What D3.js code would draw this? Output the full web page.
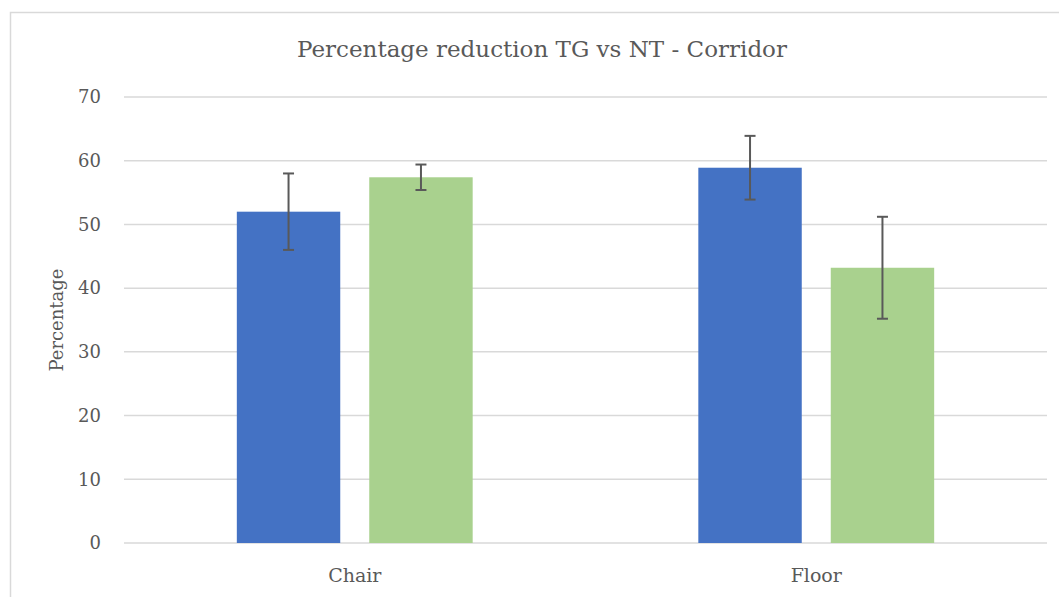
<!DOCTYPE html>
<html>
<head>
<meta charset="utf-8">
<script src="https://cdn.jsdelivr.net/npm/d3@7"></script>
<style>
  body { margin: 0; background: #fff; }
  text { font-family: "DejaVu Serif", serif; fill: #595959; }
</style>
</head>
<body>
<script>
// chart data
var categories = ["Chair", "Floor"];
var seriesNames = ["TG", "NT"];
var seriesColors = ["#4472C4", "#A9D18E"];
var tgValues = [52.0, 58.9];
var ntValues = [57.4, 43.2];
var tgErrors = [6.0, 5.0];
var ntErrors = [2.0, 8.0];
var yTicks = [0, 10, 20, 30, 40, 50, 60, 70];

var width = 1059, height = 597;
var margin = {top: 97, right: 12, bottom: 54, left: 124};

var svg = d3.select("body").append("svg")
    .attr("width", width)
    .attr("height", height);

// chart frame
svg.append("rect")
    .attr("x", 10.5).attr("y", 12.5)
    .attr("width", 1060).attr("height", 600)
    .attr("fill", "none")
    .attr("stroke", "#d9d9d9")
    .attr("stroke-width", 1.5);

var x = d3.scaleBand()
    .domain(categories)
    .range([margin.left, width - margin.right]);

var y = d3.scaleLinear()
    .domain([0, 70])
    .range([height - margin.bottom, margin.top]);

// bars inside each category
var inner = d3.scaleBand()
    .domain(seriesNames)
    .range([0, x.bandwidth()])
    .paddingInner(0.219)
    .paddingOuter(0.852);

// gridlines
svg.append("g")
  .selectAll("line")
  .data(yTicks)
  .enter().append("line")
    .attr("x1", margin.left)
    .attr("x2", width - margin.right)
    .attr("y1", d => y(d))
    .attr("y2", d => y(d))
    .attr("stroke", "#d9d9d9")
    .attr("stroke-width", 1.5);

// y axis labels
var yAxis = svg.append("g")
    .attr("transform", "translate(" + (margin.left - 23) + ",0)")
    .call(d3.axisLeft(y).tickValues(yTicks).tickSize(0).tickPadding(0));
yAxis.select(".domain").remove();
yAxis.selectAll("text")
    .style("font-size", "18px")
    .style("font-family", "'DejaVu Serif', serif")
    .attr("fill", "#595959");

// x axis labels
var xAxis = svg.append("g")
    .attr("transform", "translate(0," + (height - margin.bottom) + ")")
    .call(d3.axisBottom(x).tickSize(0).tickPadding(39));
xAxis.select(".domain").remove();
xAxis.selectAll("text")
    .attr("dy", null)
    .style("font-size", "19px")
    .style("font-family", "'DejaVu Serif', serif")
    .attr("fill", "#595959");

var data = [];
categories.forEach(function(c, i) {
  data.push({cat: c, s: seriesNames[0], v: tgValues[i], e: tgErrors[i], color: seriesColors[0]});
  data.push({cat: c, s: seriesNames[1], v: ntValues[i], e: ntErrors[i], color: seriesColors[1]});
});

// bars
svg.append("g")
  .selectAll("rect")
  .data(data)
  .enter().append("rect")
    .attr("x", d => x(d.cat) + inner(d.s))
    .attr("y", d => y(d.v))
    .attr("width", inner.bandwidth())
    .attr("height", d => y(0) - y(d.v))
    .attr("fill", d => d.color);

// error bars
var err = svg.append("g")
    .attr("stroke", "#595959")
    .attr("stroke-width", 2)
  .selectAll("g")
  .data(data)
  .enter().append("g")
    .attr("transform", d => "translate(" + (x(d.cat) + inner(d.s) + inner.bandwidth() / 2) + ",0)");

err.append("line")
    .attr("y1", d => y(d.v + d.e))
    .attr("y2", d => y(d.v - d.e));
err.append("line")
    .attr("x1", -5.5).attr("x2", 5.5)
    .attr("y1", d => y(d.v + d.e))
    .attr("y2", d => y(d.v + d.e));
err.append("line")
    .attr("x1", -5.5).attr("x2", 5.5)
    .attr("y1", d => y(d.v - d.e))
    .attr("y2", d => y(d.v - d.e));

// title
svg.append("text")
    .attr("x", 542)
    .attr("y", 57)
    .attr("text-anchor", "middle")
    .style("font-size", "23px")
    .text("Percentage reduction TG vs NT - Corridor");

// y axis title
svg.append("text")
    .attr("transform", "translate(63," + (y(35)) + ") rotate(-90)")
    .attr("text-anchor", "middle")
    .style("font-size", "18px")
    .text("Percentage");
</script>
</body>
</html>
